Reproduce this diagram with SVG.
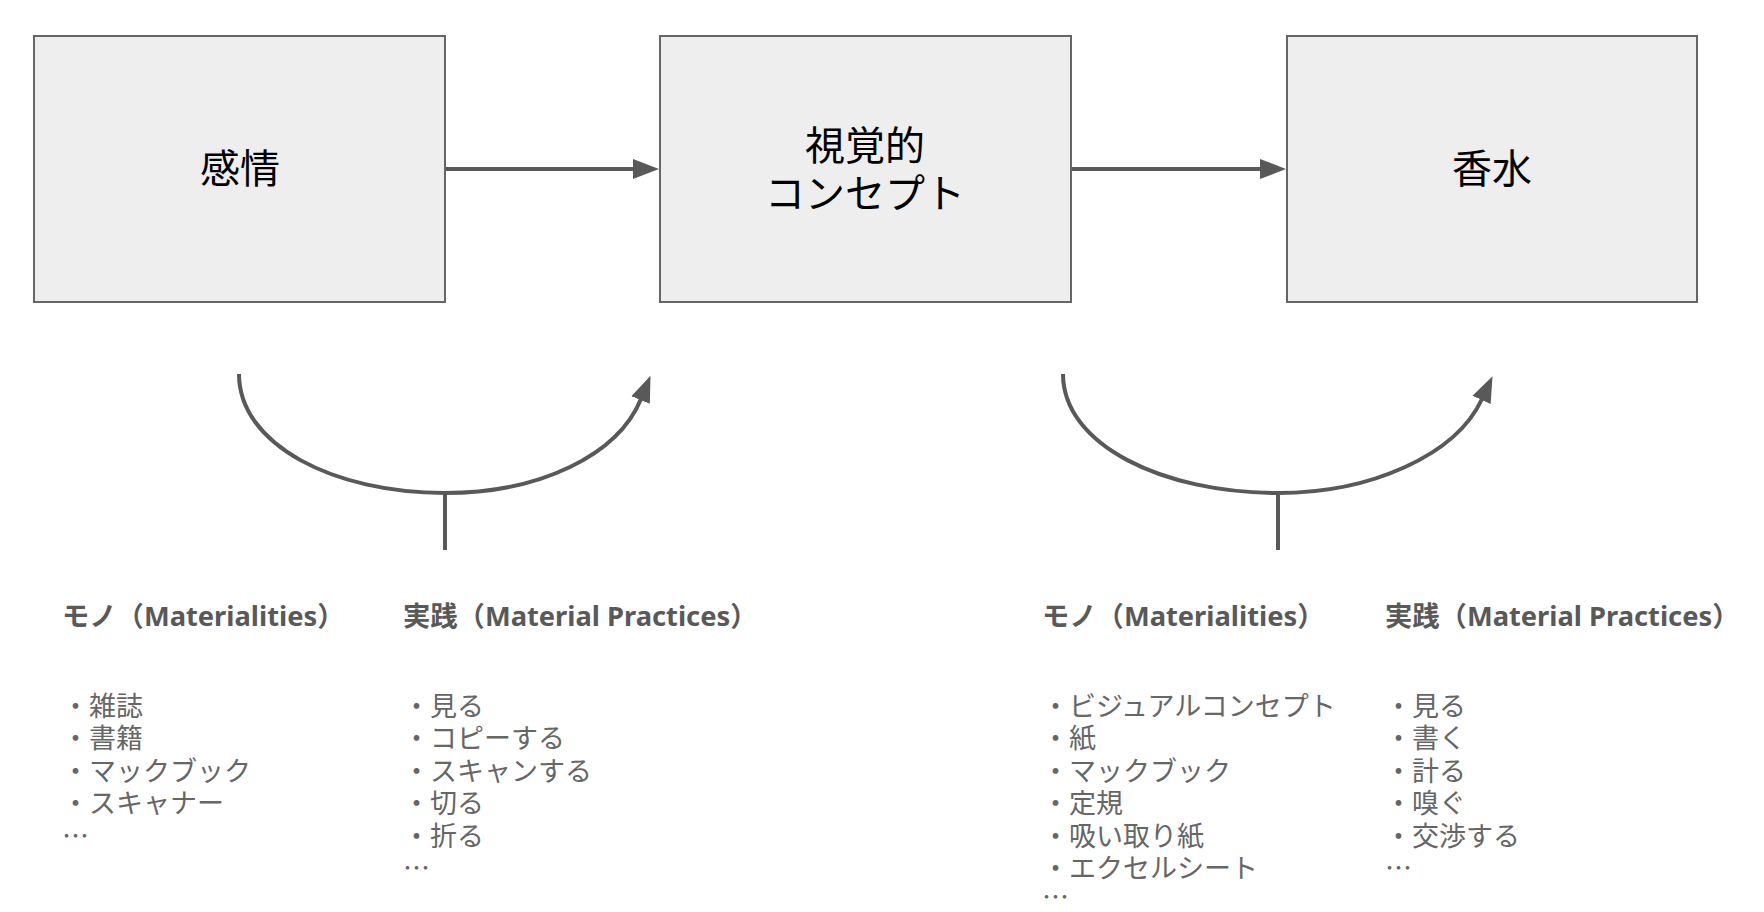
<svg xmlns="http://www.w3.org/2000/svg" width="1764" height="912" viewBox="0 0 1764 912">
<defs>
<style>
.box{fill:#eeeeee;stroke:#666666;stroke-width:2}
.lbl{font-family:"Noto Sans CJK JP","Noto Sans",sans-serif;font-size:40px;fill:#000000;text-anchor:middle}
.edge{fill:none;stroke:#595959;stroke-width:4}
.hd{font-family:"Noto Sans","Noto Sans CJK JP",sans-serif;font-size:27.3px;font-weight:bold;fill:#595959}
.it{font-family:"Noto Sans CJK JP","Noto Sans",sans-serif;font-size:27px;fill:#666666}
</style>
<marker id="ah" markerUnits="userSpaceOnUse" markerWidth="28" markerHeight="22" refX="1" refY="11" orient="auto">
<path d="M0,1 L26,11 L0,21 z" fill="#595959"/>
</marker>
</defs>
<rect width="1764" height="912" fill="#ffffff"/>
<g id="connectors">
<line class="edge" x1="445" y1="169" x2="634" y2="169" marker-end="url(#ah)"/>
<line class="edge" x1="1071" y1="169" x2="1261" y2="169" marker-end="url(#ah)"/>
<path class="edge" d="M239,374 C239,445 334,493 445,493 C540,493 618,455 641,399" marker-end="url(#ah)"/>
<line class="edge" x1="445" y1="493" x2="445" y2="550"/>
<path class="edge" d="M1063,374 C1063,445 1163,493 1278,493 C1371,493 1456,455 1482,399" marker-end="url(#ah)"/>
<line class="edge" x1="1278" y1="493" x2="1278" y2="550"/>
</g>
<g id="node-kanjo">
<rect class="box" x="34" y="36" width="411" height="266"/>
<text class="lbl" x="240" y="183">感情</text>
</g>
<g id="node-concept">
<rect class="box" x="660" y="36" width="411" height="266"/>
<text class="lbl" x="865" y="160">視覚的</text>
<text class="lbl" x="865" y="208">コンセプト</text>
</g>
<g id="node-kosui">
<rect class="box" x="1287" y="36" width="410" height="266"/>
<text class="lbl" x="1492" y="183">香水</text>
</g>
<g id="list-mono-1">
<text class="hd" x="62" y="626">モノ（Materialities）</text>
<text class="it"><tspan x="62" y="716">・雑誌</tspan><tspan x="62" y="748.4">・書籍</tspan><tspan x="62" y="780.8">・マックブック</tspan><tspan x="62" y="813.2">・スキャナー</tspan><tspan x="62" y="845.6">…</tspan></text>
</g>
<g id="list-practice-1">
<text class="hd" x="403" y="626">実践（Material Practices）</text>
<text class="it"><tspan x="403" y="716">・見る</tspan><tspan x="403" y="748.4">・コピーする</tspan><tspan x="403" y="780.8">・スキャンする</tspan><tspan x="403" y="813.2">・切る</tspan><tspan x="403" y="845.6">・折る</tspan><tspan x="403" y="878">…</tspan></text>
</g>
<g id="list-mono-2">
<text class="hd" x="1042" y="626">モノ（Materialities）</text>
<text class="it"><tspan x="1042" y="716">・ビジュアルコンセプト</tspan><tspan x="1042" y="748.4">・紙</tspan><tspan x="1042" y="780.8">・マックブック</tspan><tspan x="1042" y="813.2">・定規</tspan><tspan x="1042" y="845.6">・吸い取り紙</tspan><tspan x="1042" y="878">・エクセルシート</tspan><tspan x="1042" y="907">…</tspan></text>
</g>
<g id="list-practice-2">
<text class="hd" x="1385" y="626">実践（Material Practices）</text>
<text class="it"><tspan x="1385" y="716">・見る</tspan><tspan x="1385" y="748.4">・書く</tspan><tspan x="1385" y="780.8">・計る</tspan><tspan x="1385" y="813.2">・嗅ぐ</tspan><tspan x="1385" y="845.6">・交渉する</tspan><tspan x="1385" y="878">…</tspan></text>
</g>
</svg>
